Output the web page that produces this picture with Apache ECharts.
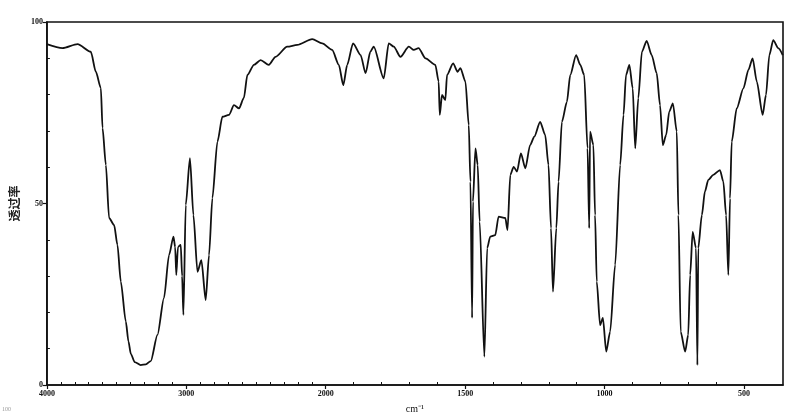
<!DOCTYPE html>
<html>
<head>
<meta charset="utf-8">
<script src="https://cdn.jsdelivr.net/npm/echarts@6/dist/echarts.min.js"></script>
<style>
html,body{margin:0;padding:0;background:#fff;}
#chart{width:800px;height:420px;}
</style>
</head>
<body>
<div id="chart"></div>
<script>
// Wavenumbers (cm^-1)
const wavenumbers = [4000,3888,3780,3685,3649,3613,3601,3577,3554,3518,3494,3470,3434,3415,3398,3370,3327,3290,3255,3207,3160,3124,3092,3080,3072,3060,3040,3030,3021,3004,2974,2949,2920,2892,2861,2837,2813,2777,2741,2694,2658,2622,2587,2562,2515,2467,2408,2360,2276,2204,2097,2025,1977,1953,1937,1923,1902,1875,1857,1840,1828,1792,1774,1756,1732,1702,1684,1667,1642,1607,1595,1591,1583,1571,1565,1543,1527,1517,1499,1487,1481,1475,1472,1463,1455,1448,1431,1421,1410,1392,1380,1356,1348,1338,1326,1314,1300,1284,1267,1252,1231,1213,1201,1192,1185,1173,1165,1153,1135,1123,1102,1087,1073,1061,1055,1052,1040,1034,1028,1016,1006,994,980,962,944,932,923,911,899,890,879,866,849,831,813,801,791,779,768,755,741,735,727,711,700,693,684,672,667,664,651,640,628,610,586,574,564,556,550,544,526,502,484,469,454,433,421,409,395,377,361];
// Transmittance (%) at each wavenumber
const transmittance = [93.9,92.8,93.9,91.8,86.3,81.8,70.8,60.6,46.0,44.1,38.6,28.5,17.5,12.0,8.6,6.3,5.5,5.7,6.6,13.8,24.0,35.8,40.9,38.0,30.3,38.0,38.6,30.0,19.3,49.6,62.5,46.8,31.2,34.4,23.4,35.8,51.5,67.0,73.9,74.4,77.1,76.2,79.1,85.4,88.2,89.5,88.2,90.4,93.2,93.7,95.3,94.1,92.3,88.2,82.6,88.2,94.1,90.9,85.9,91.8,93.2,84.5,94.1,93.2,90.4,93.2,92.3,92.8,90.0,88.2,83.6,74.4,79.9,78.5,85.4,88.6,86.3,87.3,83.6,71.6,56.0,18.5,50.5,65.2,60.6,45.0,7.8,37.7,40.9,41.3,46.4,46.0,42.7,57.9,60.1,58.8,63.8,59.7,66.1,68.4,72.5,68.9,60.6,43.2,25.7,43.2,56.0,72.5,78.0,85.4,90.9,88.2,85.4,65.2,43.2,69.8,66.1,46.8,28.5,16.5,18.5,9.2,14.7,33.1,60.6,74.4,85.4,88.2,81.7,65.2,79.0,91.8,94.8,90.9,85.9,77.1,66.1,68.9,75.3,77.6,69.8,46.8,14.7,9.2,13.8,30.3,42.2,37.7,5.5,37.7,46.8,53.3,56.5,57.9,59.2,56.0,46.8,30.3,51.4,67.0,76.2,81.7,86.8,90.0,83.6,74.4,79.9,90.9,95.0,92.8,90.9];
// Axis tick labels
const xTickLabels = [4000,3000,2000,1500,1000,500];
const yTickLabels = [0,50,100];
const xMinorTicks = [];
for (let w = 3900; w > 400; w -= 100) if (xTickLabels.indexOf(w) < 0) xMinorTicks.push(w);
const yMinorTicks = [10,20,30,40,60,70,80,90];
const xMaxWavenumber = 360;

// Spectrometer chart paper: x scale doubles below 2000 cm^-1
function pos(w){ return w >= 2000 ? (4000 - w) / 1000 : 2 + (2000 - w) / 500; }

const seriesData = wavenumbers.map((w,i)=>[pos(w), transmittance[i]]);
const labelFont = {fontFamily:'Liberation Serif', fontSize:8, fontWeight:'bold', color:'#111'};

const chart = echarts.init(document.getElementById('chart'), null, {renderer:'canvas'});
chart.setOption({
  animation:false,
  backgroundColor:'#fff',
  grid:{left:46,right:17,top:22,bottom:35,show:true,borderColor:'#111',borderWidth:1.6,backgroundColor:'transparent'},
  xAxis:[{
    type:'value', min:0, max:pos(xMaxWavenumber),
    axisLine:{lineStyle:{color:'#111',width:1.6}},
    splitLine:{show:false},
    axisTick:{show:true,length:4,lineStyle:{color:'#111',width:1.2},customValues:xTickLabels.map(pos)},
    axisLabel:Object.assign({margin:5,customValues:xTickLabels.map(pos),
      formatter:v=>{const i=xTickLabels.map(pos).findIndex(p=>Math.abs(p-v)<1e-6);return i>=0?String(xTickLabels[i]):'';}},labelFont),
    name:'cm⁻¹', nameLocation:'middle', nameGap:19,
    nameTextStyle:{fontFamily:'Liberation Serif',fontSize:10,color:'#111'}
  },{
    type:'value', min:0, max:pos(xMaxWavenumber), position:'bottom',
    axisLine:{show:false}, splitLine:{show:false}, axisLabel:{show:false},
    axisTick:{show:true,inside:true,length:3,lineStyle:{color:'#111',width:1},customValues:xMinorTicks.map(pos)}
  }],
  yAxis:[{
    type:'value', min:0, max:100,
    axisLine:{show:true,lineStyle:{color:'#111',width:1.6}},
    splitLine:{show:false},
    axisTick:{show:true,length:4,lineStyle:{color:'#111',width:1.2},customValues:yTickLabels},
    axisLabel:Object.assign({margin:4,customValues:yTickLabels},labelFont),
    name:'透过率', nameLocation:'middle', nameGap:22, nameRotate:90,
    nameTextStyle:{fontFamily:'Noto Sans CJK SC',fontSize:12,fontWeight:'bold',color:'#222'}
  },{
    type:'value', min:0, max:100, position:'left',
    axisLine:{show:false}, splitLine:{show:false}, axisLabel:{show:false},
    axisTick:{show:true,inside:true,length:3,lineStyle:{color:'#111',width:1},customValues:yMinorTicks}
  }],
  series:[{
    type:'line', data:seriesData, xAxisIndex:0, yAxisIndex:0,
    showSymbol:false, smooth:0.25, smoothMonotone:'x',
    lineStyle:{color:'#111',width:1.8}
  }],
  graphic:[{type:'text',left:2,top:406,style:{text:'100',fontSize:6,fill:'#999',fontFamily:'Liberation Serif'}}]
});
</script>
</body>
</html>
